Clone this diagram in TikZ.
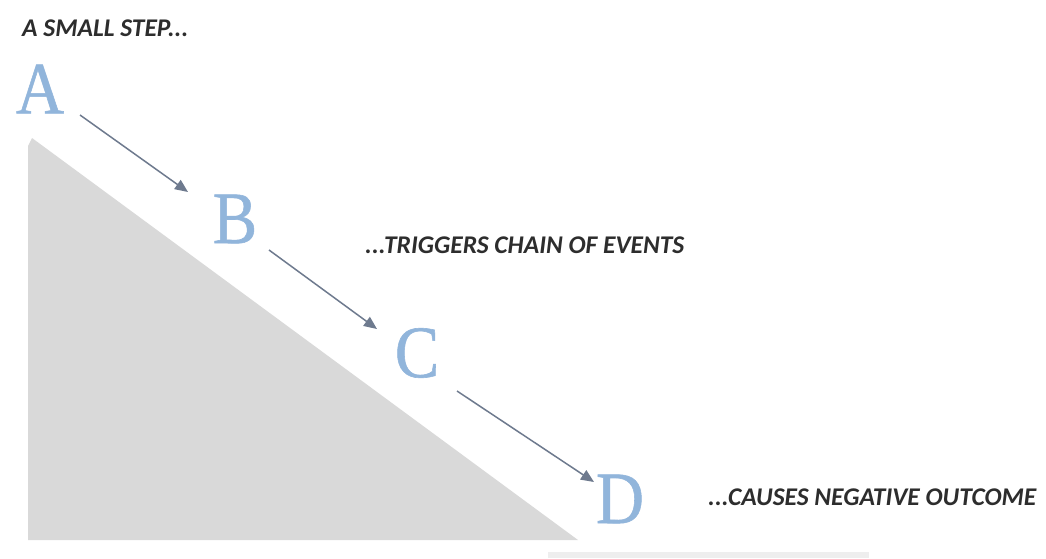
\documentclass[tikz,border=0pt]{standalone}
\usepackage{fontspec}
\usepackage{graphicx}
\setmainfont{Liberation Serif}
\newfontfamily\letterfont[FakeBold=0.8]{Liberation Serif}
\newfontfamily\labelfont{Carlito}
\usetikzlibrary{calc,arrows.meta}
\definecolor{letterblue}{RGB}{145,181,219}
\definecolor{arrowgray}{RGB}{110,122,142}
\definecolor{rampgray}{RGB}{217,217,217}
\definecolor{stripgray}{RGB}{238,238,238}
\definecolor{textgray}{RGB}{45,45,45}
\newcommand{\narrowletter}[1]{\scalebox{0.9}[1]{#1}}
\tikzset{
  letter/.style={inner sep=0pt, text=letterblue, font=\letterfont\fontsize{74}{74}\selectfont},
  caption/.style={inner sep=0pt, anchor=west, text=textgray, font=\labelfont\bfseries\itshape\fontsize{25.5}{25.5}\selectfont},
  arr/.style={draw=arrowgray, line width=1.5pt, -{Triangle[length=13pt,width=11pt]}}
}
\begin{document}
\begin{tikzpicture}[x=1pt,y=-1pt]
\fill[white] (0,0) rectangle (1046,558);
\useasboundingbox (0,0) rectangle (1046,558);
\fill[rampgray] (32,138) -- (28,146) -- (28,540) -- (578,540) -- cycle;
\fill[stripgray] (548,552) rectangle (869,558);
\node[letter] (A) at (40,89) {\narrowletter{A}};
\node[letter] (B) at (235,219) {\narrowletter{B}};
\node[letter] (C) at (417,353) {\narrowletter{C}};
\node[letter] (D) at (620,499) {\narrowletter{D}};
\node[caption] (t1) at (22,28) {A SMALL STEP...};
\node[caption] (t2) at (365,245) {...TRIGGERS CHAIN OF EVENTS};
\node[caption] (t3) at (708,497) {...CAUSES NEGATIVE OUTCOME};
\draw[arr] ($(A)+(40,26)$) -- ($(B)+(-47,-27)$);
\draw[arr] ($(B)+(34,31)$) -- ($(C)+(-40,-24)$);
\draw[arr] ($(C)+(40,38)$) -- ($(D)+(-26,-17)$);
\end{tikzpicture}
\end{document}
